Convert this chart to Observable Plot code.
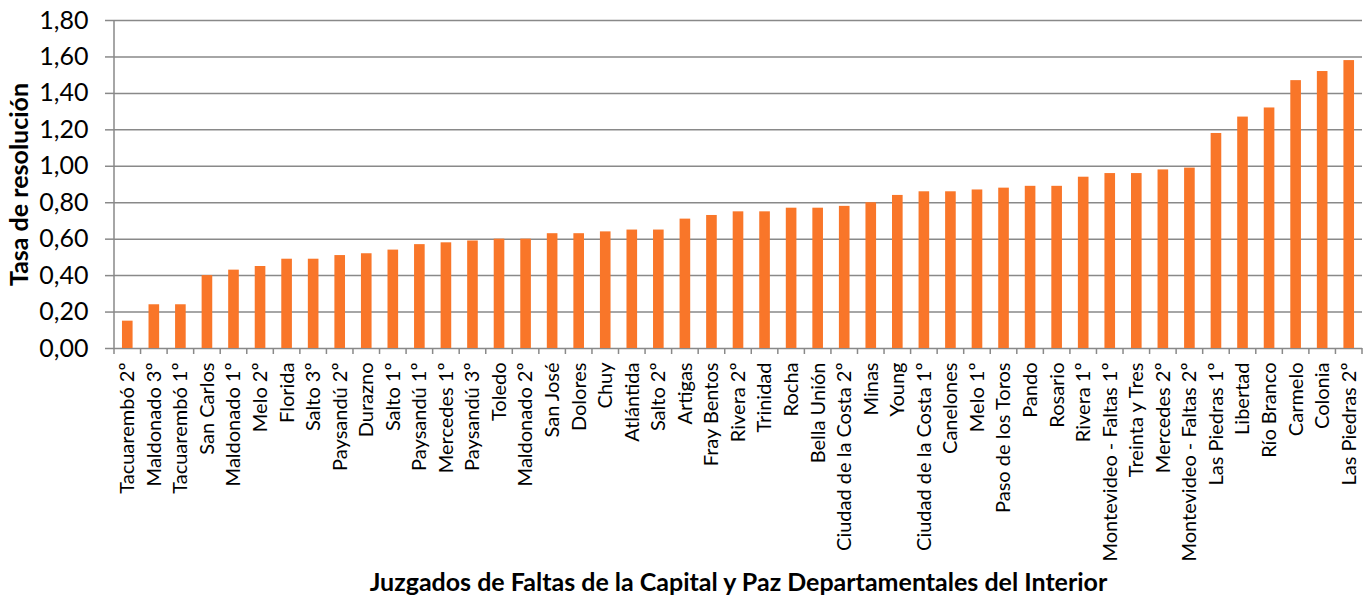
<!DOCTYPE html>
<html>
<head>
<meta charset="utf-8">
<script src="https://cdn.jsdelivr.net/npm/d3@7"></script>
<script src="https://cdn.jsdelivr.net/npm/@observablehq/plot@0.6"></script>
<style>
  body { margin: 0; background: #fff; }
  #chart svg { display: block; }
</style>
</head>
<body>
<div id="chart"></div>
<script>
const categories = [
  "Tacuarembó 2º", "Maldonado 3º", "Tacuarembó 1º", "San Carlos", "Maldonado 1º",
  "Melo 2º", "Florida", "Salto 3º", "Paysandú 2º", "Durazno", "Salto 1º",
  "Paysandú 1º", "Mercedes 1º", "Paysandú 3º", "Toledo", "Maldonado 2º",
  "San José", "Dolores", "Chuy", "Atlántida", "Salto 2º", "Artigas",
  "Fray Bentos", "Rivera 2º", "Trinidad", "Rocha", "Bella Unión",
  "Ciudad de la Costa 2º", "Minas", "Young", "Ciudad de la Costa 1º",
  "Canelones", "Melo 1º", "Paso de los Toros", "Pando", "Rosario",
  "Rivera 1º", "Montevideo - Faltas 1º", "Treinta y Tres", "Mercedes 2º",
  "Montevideo - Faltas 2º", "Las Piedras 1º", "Libertad", "Río Branco",
  "Carmelo", "Colonia", "Las Piedras 2º"
];
const values = [
  0.15, 0.24, 0.24, 0.40, 0.43,
  0.45, 0.49, 0.49, 0.51, 0.52, 0.54,
  0.57, 0.58, 0.59, 0.60, 0.60,
  0.63, 0.63, 0.64, 0.65, 0.65, 0.71,
  0.73, 0.75, 0.75, 0.77, 0.77,
  0.78, 0.80, 0.84, 0.86,
  0.86, 0.87, 0.88, 0.89, 0.89,
  0.94, 0.96, 0.96, 0.98,
  0.99, 1.18, 1.27, 1.32,
  1.47, 1.52, 1.58
];
const yTicks = [0, 0.2, 0.4, 0.6, 0.8, 1.0, 1.2, 1.4, 1.6, 1.8];
const yTitle = "Tasa de resolución";
const xTitle = "Juzgados de Faltas de la Capital y Paz Departamentales del Interior";

const data = categories.map((c, i) => ({juzgado: c, tasa: values[i]}));

const gridColor = "#898989";
const barColor = "#F97629";

// left axis line and category-boundary ticks, drawn from the scales
function bandFrame(index, scales, vals, dims) {
  const x = scales.x;
  const step = x(categories[1]) - x(categories[0]);
  const bw = typeof x.bandwidth === "function" ? x.bandwidth() : step * 0.4;
  const bottom = dims.height - dims.marginBottom;
  const g = d3.create("svg:g").attr("stroke", gridColor).attr("stroke-width", 1.5);
  const edges = categories.map(c => x(c) - (step - bw) / 2);
  edges.push(edges[edges.length - 1] + step);
  g.selectAll("line.t").data(edges).join("line")
    .attr("x1", d => d).attr("x2", d => d)
    .attr("y1", bottom).attr("y2", bottom + 6);
  g.append("line")
    .attr("x1", dims.marginLeft).attr("x2", dims.marginLeft)
    .attr("y1", dims.marginTop).attr("y2", bottom);
  return g.node();
}

const chart = Plot.plot({
  width: 1368,
  height: 601,
  marginLeft: 114,
  marginRight: 6,
  marginTop: 20,
  marginBottom: 253,
  style: {fontFamily: "Lato, 'Open Sans', sans-serif", background: "#fff", color: "#000", overflow: "visible"},
  x: {domain: categories, paddingInner: 0.6, paddingOuter: 0.3, round: false, label: null},
  y: {domain: [0, 1.8], label: null},
  marks: [
    Plot.gridY(yTicks, {stroke: gridColor, strokeOpacity: 1, strokeWidth: 1.5}),
    Plot.axisY(yTicks, {
      tickSize: 9, tickPadding: 17, stroke: gridColor, strokeWidth: 1.5,
      tickFormat: d => d.toFixed(2).replace(".", ","), fontSize: 25, label: null, fill: "#000"
    }),
    Plot.barY(data, {x: "juzgado", y: "tasa", fill: barColor}),
    Plot.axisX({
      tickSize: 0, tickPadding: 14, tickRotate: -90, fontSize: 20, label: null, fill: "#000"
    }),
    bandFrame,
    Plot.text([yTitle], {text: d => d, frameAnchor: "left", textAnchor: "middle", dx: -95, rotate: -90, fontSize: 25, fontWeight: "bold", fill: "#000"}),
    Plot.text([xTitle], {text: d => d, frameAnchor: "bottom", textAnchor: "middle", lineAnchor: "bottom", dy: 242, fontSize: 25, fontWeight: "bold", fill: "#000"})
  ]
});

document.getElementById("chart").appendChild(chart);
</script>
</body>
</html>
